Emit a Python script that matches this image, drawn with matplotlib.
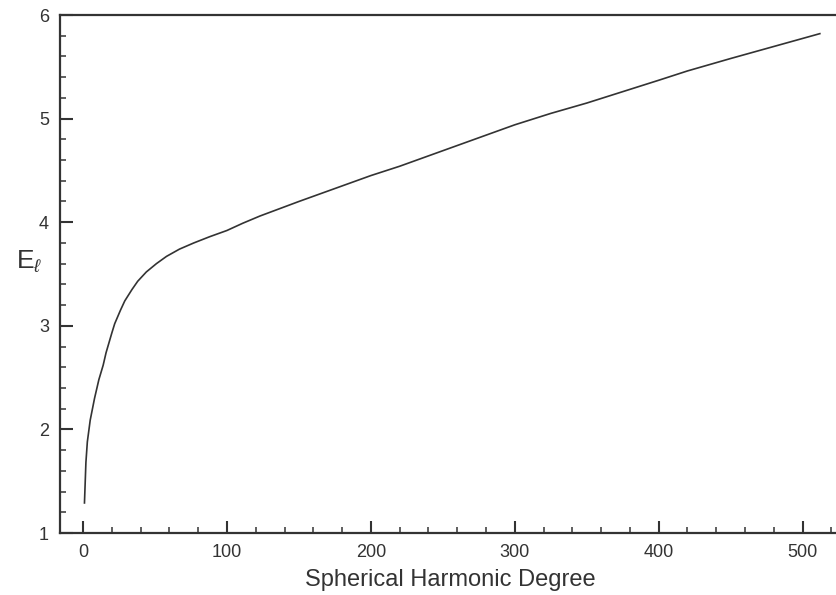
import matplotlib
matplotlib.use("Agg")
import matplotlib.pyplot as plt
from matplotlib.ticker import MultipleLocator

# values
degree = [1, 2, 3, 5, 8, 11, 14, 16, 20, 22, 26, 29, 34, 38, 44, 51, 58,
          67, 77, 88, 100, 111, 123, 150, 200, 220, 250, 300, 325, 350,
          400, 420, 450, 512]
energy = [1.29, 1.68, 1.88, 2.09, 2.30, 2.48, 2.62, 2.74, 2.93, 3.02, 3.15,
          3.24, 3.35, 3.43, 3.52, 3.60, 3.67, 3.74, 3.80, 3.86, 3.92, 3.99,
          4.06, 4.20, 4.45, 4.54, 4.69, 4.94, 5.05, 5.15, 5.37, 5.46, 5.58,
          5.82]

plt.rcParams["font.family"] = ["Liberation Sans", "DejaVu Sans"]
plt.rcParams["mathtext.fontset"] = "custom"
plt.rcParams["mathtext.rm"] = "Liberation Sans"
plt.rcParams["mathtext.it"] = "Liberation Sans:italic"

fig = plt.figure(figsize=(8.36, 5.95), dpi=100)
ax = fig.add_axes([60 / 836, 62 / 595, 780 / 836, 518 / 595])

ax.plot(degree, energy, color="#333333", linewidth=1.2,
        solid_joinstyle="round")

ax.set_xlim(-16, 526)
ax.set_ylim(1, 6)
ax.xaxis.set_major_locator(MultipleLocator(100))
ax.xaxis.set_minor_locator(MultipleLocator(20))
ax.yaxis.set_major_locator(MultipleLocator(1))
ax.yaxis.set_minor_locator(MultipleLocator(0.2))

for side in ["left", "bottom", "top"]:
    ax.spines[side].set_linewidth(1.6)
    ax.spines[side].set_color("#333333")
ax.spines["right"].set_visible(False)

ax.tick_params(which="major", direction="in", length=9, width=1.5,
               labelsize=13, colors="#333333", pad=8)
ax.tick_params(which="minor", direction="in", length=4.5, width=1.1,
               colors="#333333")
ax.tick_params(top=False, right=False, which="both")

ax.set_xlabel("Spherical Harmonic Degree", fontsize=17, color="#333333",
              labelpad=6)
ax.set_ylabel(r"E$_\ell$", fontsize=19, color="#333333", rotation=0,
              va="center", ha="center")
ax.yaxis.set_label_coords(-0.04, 0.525)

fig.savefig("out.png", dpi=100)
